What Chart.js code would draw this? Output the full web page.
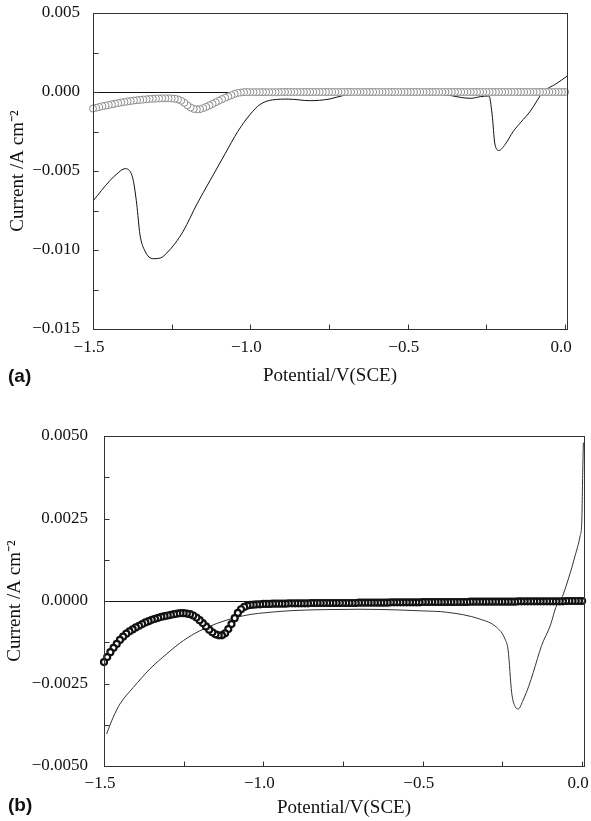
<!DOCTYPE html>
<html>
<head>
<meta charset="utf-8">
<script src="https://cdn.jsdelivr.net/npm/chart.js@4.4.1/dist/chart.umd.min.js"></script>
<style>
  body { margin: 0; background: #fff; width: 591px; height: 821px; overflow: hidden; position: relative; }
  canvas { position: absolute; left: 0; }
  #chartA { top: 0; }
  #chartB { top: 410px; }
  .tag { position: absolute; left: 8px; font: bold 19px "Liberation Sans", Arial, sans-serif; color: #111; line-height: 22px; }
</style>
</head>
<body>
<canvas id="chartA" width="591" height="395"></canvas>
<canvas id="chartB" width="591" height="411"></canvas>
<div class="tag" style="top:365px">(a)</div>
<div class="tag" style="top:794px">(b)</div>
<script>
// potential sweep for the open-circle scans (V vs SCE)
const sweepV = [
  -1.50,-1.49,-1.48,-1.47,-1.46,-1.45,-1.44,-1.43,-1.42,-1.41,
  -1.40,-1.39,-1.38,-1.37,-1.36,-1.35,-1.34,-1.33,-1.32,-1.31,
  -1.30,-1.29,-1.28,-1.27,-1.26,-1.25,-1.24,-1.23,-1.22,-1.21,
  -1.20,-1.19,-1.18,-1.17,-1.16,-1.15,-1.14,-1.13,-1.12,-1.11,
  -1.10,-1.09,-1.08,-1.07,-1.06,-1.05,-1.04,-1.03,-1.02,-1.01,
  -1.00,-0.99,-0.98,-0.97,-0.96,-0.95,-0.94,-0.93,-0.92,-0.91,
  -0.90,-0.89,-0.88,-0.87,-0.86,-0.85,-0.84,-0.83,-0.82,-0.81,
  -0.80,-0.79,-0.78,-0.77,-0.76,-0.75,-0.74,-0.73,-0.72,-0.71,
  -0.70,-0.69,-0.68,-0.67,-0.66,-0.65,-0.64,-0.63,-0.62,-0.61,
  -0.60,-0.59,-0.58,-0.57,-0.56,-0.55,-0.54,-0.53,-0.52,-0.51,
  -0.50,-0.49,-0.48,-0.47,-0.46,-0.45,-0.44,-0.43,-0.42,-0.41,
  -0.40,-0.39,-0.38,-0.37,-0.36,-0.35,-0.34,-0.33,-0.32,-0.31,
  -0.30,-0.29,-0.28,-0.27,-0.26,-0.25,-0.24,-0.23,-0.22,-0.21,
  -0.20,-0.19,-0.18,-0.17,-0.16,-0.15,-0.14,-0.13,-0.12,-0.11,
  -0.10,-0.09,-0.08,-0.07,-0.06,-0.05,-0.04,-0.03,-0.02,-0.01,
  0.00
]

// (a) open circles, current density A/cm2
const ringA = [
  -0.00105,-0.00100,-0.00095,-0.00090,-0.00086,-0.00082,-0.00078,-0.00074,-0.00070,-0.00066,
  -0.00063,-0.00060,-0.00057,-0.00054,-0.00052,-0.00050,-0.00048,-0.00046,-0.00044,-0.00043,
  -0.00042,-0.00041,-0.00040,-0.00040,-0.00040,-0.00041,-0.00043,-0.00047,-0.00055,-0.00068,
  -0.00084,-0.00098,-0.00107,-0.00110,-0.00108,-0.00102,-0.00094,-0.00085,-0.00075,-0.00065,
  -0.00055,-0.00045,-0.00036,-0.00028,-0.00020,-0.00012,-0.00006,-0.00003,-0.00001,0,
  -0.00001,-0.00001,-0.00001,-0.00001,-0.00001,-0.00001,-0.00001,-0.00001,-0.00001,-0.00001,
  0,0,0,0,0,0,0,0,0,0,
  0,0,0,0,0,0,0,0,0,0,
  0,0,0,0,0,0,0,0,0,0,
  0,0,0,0,0,0,0,0,0,0,
  0,0,0,0,0,0,0,0,0,0,
  0,0,0,0,0,0,0,0,0,0,
  0,0,0,0,0,0,0,0,0,0,
  0,0,0,0,0,0,0,0,0,0,
  0,0,0,0,0,0,0,0,0,0,
  0
]

// (a) solid curve
const lineAx = [-1.50,-1.446,-1.425,-1.398,-1.38,-1.372,-1.361,-1.351,-1.335,-1.309,-1.285,-1.266,-1.24,-1.213,-1.17,-1.128,-1.08,-1.04,-1.00,-0.97,-0.93,-0.88,-0.81,-0.75,-0.70,-0.66,-0.60,-0.50,-0.43,-0.37,-0.33,-0.30,-0.27,-0.242,-0.232,-0.223,-0.21,-0.19,-0.165,-0.14,-0.11,-0.07,-0.03,0.006]
const lineAy = [-0.0069,-0.0056,-0.0052,-0.00485,-0.0051,-0.0056,-0.0071,-0.0090,-0.01006,-0.01055,-0.0105,-0.0102,-0.0096,-0.0088,-0.0071,-0.0056,-0.0039,-0.0025,-0.0014,-0.0008,-0.0005,-0.00045,-0.00055,-0.00045,-0.0002,-0.00013,-0.0001,-0.0001,-0.00012,-0.0002,-0.00035,-0.0004,-0.0003,-0.00025,-0.0014,-0.0033,-0.0037,-0.0033,-0.0025,-0.0019,-0.0012,0.0000,0.0005,0.0010]

// (b) circles
const ringB = [
  -0.00185,-0.00170,-0.00155,-0.00142,-0.00130,-0.00118,-0.00108,-0.00099,-0.00092,-0.00086,
  -0.00080,-0.00075,-0.00070,-0.00065,-0.00061,-0.00057,-0.00054,-0.00051,-0.00048,-0.00046,
  -0.00044,-0.00042,-0.00040,-0.00038,-0.00037,-0.00037,-0.00038,-0.00040,-0.00044,-0.00050,
  -0.00058,-0.00067,-0.00077,-0.00087,-0.00095,-0.00101,-0.00104,-0.00104,-0.00098,-0.00085,
  -0.00070,-0.00052,-0.00036,-0.00025,-0.00018,-0.00014,-0.00012,-0.00011,-0.00010,-0.00010,
  -0.00009,-0.00009,-0.00009,-0.00008,-0.00008,-0.00008,-0.00008,-0.00008,-0.00007,-0.00007,
  -0.00007,-0.00007,-0.00007,-0.00007,-0.00007,-0.00006,-0.00006,-0.00006,-0.00006,-0.00006,
  -0.00006,-0.00006,-0.00006,-0.00006,-0.00006,-0.00006,-0.00006,-0.00006,-0.00006,-0.00006,
  -0.00005,-0.00005,-0.00005,-0.00005,-0.00005,-0.00005,-0.00005,-0.00005,-0.00005,-0.00005,
  -0.00004,-0.00004,-0.00004,-0.00004,-0.00004,-0.00004,-0.00004,-0.00004,-0.00004,-0.00004,
  -0.00003,-0.00003,-0.00003,-0.00003,-0.00003,-0.00003,-0.00003,-0.00003,-0.00003,-0.00003,
  -0.00003,-0.00003,-0.00003,-0.00003,-0.00003,-0.00002,-0.00002,-0.00002,-0.00002,-0.00002,
  -0.00002,-0.00002,-0.00002,-0.00002,-0.00002,-0.00002,-0.00002,-0.00002,-0.00002,-0.00002,
  -0.00001,-0.00001,-0.00001,-0.00001,-0.00001,-0.00001,-0.00001,-0.00001,-0.00001,-0.00001,
  -0.00001,-0.00001,-0.00001,-0.00001,-0.00001,0,0,0,0,0,
  0
]

// (b) solid curve
const lineBx = [-1.492,-1.471,-1.45,-1.408,-1.356,-1.303,-1.251,-1.199,-1.146,-1.094,-1.042,-0.989,-0.907,-0.80,-0.70,-0.58,-0.50,-0.425,-0.32,-0.268,-0.242,-0.232,-0.221,-0.21,-0.20,-0.185,-0.168,-0.153,-0.127,-0.10,-0.08,-0.068,-0.043,-0.022,-0.006,-0.001,0.002,0.004]
const lineBy = [-0.00403,-0.00352,-0.00312,-0.00262,-0.00206,-0.0016,-0.0012,-0.0009,-0.00068,-0.00052,-0.00041,-0.00035,-0.00029,-0.00026,-0.00025,-0.00027,-0.0003,-0.00034,-0.00055,-0.0008,-0.00115,-0.0015,-0.00277,-0.0032,-0.00327,-0.0030,-0.0026,-0.00216,-0.00135,-0.00075,-0.00014,0.0000,0.00067,0.00137,0.00198,0.0024,0.0039,0.0048]

// axis ticks
const xTicks = [-1.5, -1.0, -0.5, 0.0]
const xMinor = [-1.25, -0.75, -0.25]
const yTicksA = [-0.015, -0.010, -0.005, 0.000, 0.005]
const yMinorA = [-0.0125, -0.0075, -0.0025, 0.0025]
const yTicksB = [-0.0050, -0.0025, 0.0000, 0.0025, 0.0050]
const yMinorB = [-0.00375, -0.00125, 0.00125, 0.00375]

const serif = '"Liberation Serif", "Times New Roman", serif'
const tickFont = { family: serif, size: 17 }
const titleFont = { family: serif, size: 19 }

function fmt(v, d) {
  return (v < 0 ? '\u2212' : '') + Math.abs(v).toFixed(d)
}

function ringPoints(vals) {
  // last point drawn is the -1.5 V one, so it stays on top
  return sweepV.map((v, i) => ({ x: v, y: vals[i] })).reverse()
}

function linePoints(xs, ys) {
  return xs.map((v, i) => ({ x: v, y: ys[i] }))
}

// frame box, zero line and inward tick marks
function frameTicks(p) {
  return {
    id: 'frameTicks',
    beforeDatasetsDraw(chart) {
      const { ctx, chartArea: a, scales } = chart
      const y0 = Math.round(scales.y.getPixelForValue(0)) + 0.5
      ctx.save()
      ctx.strokeStyle = '#111'
      ctx.lineWidth = 1
      ctx.beginPath()
      ctx.moveTo(a.left, y0)
      ctx.lineTo(a.right, y0)
      ctx.stroke()
      ctx.restore()
    },
    afterDatasetsDraw(chart) {
      const { ctx, chartArea: a, scales: { x, y } } = chart
      const l = Math.round(a.left) + 0.5, t = Math.round(a.top) + 0.5
      const r = Math.round(a.right) + 0.5, b = Math.round(a.bottom) + 0.5
      ctx.save()
      ctx.strokeStyle = '#333'
      ctx.lineWidth = 1
      ctx.strokeRect(l, t, r - l, b - t)
      ctx.beginPath()
      xTicks.concat(xMinor).forEach(v => {
        const px = Math.round(x.getPixelForValue(v)) + 0.5
        ctx.moveTo(px, b)
        ctx.lineTo(px, b - 5)
      })
      p.yTicks.concat(p.yMinor).forEach(v => {
        const py = Math.round(y.getPixelForValue(v)) + 0.5
        ctx.moveTo(l, py)
        ctx.lineTo(l + 5, py)
      })
      ctx.stroke()
      ctx.restore()
    }
  }
}

function drawPanel(id, p) {
  return new Chart(document.getElementById(id), {
    type: 'scatter',
    data: {
      datasets: [
        {
          data: ringPoints(p.rings),
          showLine: false,
          pointRadius: p.r,
          pointHoverRadius: p.r,
          pointBorderWidth: p.rw,
          pointBorderColor: p.rc,
          pointBackgroundColor: '#fff',
          clip: 8
        },
        {
          data: linePoints(p.lx, p.ly),
          showLine: true,
          borderColor: p.lc,
          borderWidth: 1,
          pointRadius: 0,
          cubicInterpolationMode: 'monotone',
          fill: false,
          clip: 2
        }
      ]
    },
    options: {
      responsive: false,
      animation: false,
      events: [],
      layout: { padding: p.pad },
      plugins: { legend: { display: false }, tooltip: { enabled: false } },
      scales: {
        x: {
          type: 'linear', min: -1.5, max: p.xMax,
          grid: { display: false, drawTicks: false },
          border: { display: false },
          afterBuildTicks: s => { s.ticks = xTicks.map(v => ({ value: v })) },
          afterFit: s => { s.height = p.xh; s.paddingLeft = 0; s.paddingRight = 0 },
          ticks: { padding: p.xtp, labelOffset: -4, font: tickFont, color: '#111', maxRotation: 0, autoSkip: false, callback: v => fmt(v, 1) },
          title: { display: true, text: 'Potential/V(SCE)', font: titleFont, color: '#111', padding: { top: 0, bottom: 0 } }
        },
        y: {
          type: 'linear', min: p.yTicks[0], max: p.yTicks[p.yTicks.length - 1],
          grid: { display: false, drawTicks: false },
          border: { display: false },
          afterBuildTicks: s => { s.ticks = p.yTicks.map(v => ({ value: v })) },
          afterFit: s => { s.width = p.yw; s.paddingTop = 0; s.paddingBottom = 0 },
          ticks: { padding: p.ytp, font: tickFont, color: '#111', autoSkip: false, callback: v => fmt(v, p.digits) },
          title: { display: true, text: 'Current /A cm\u207B\u00B2', font: titleFont, color: '#111', padding: { top: p.ytt, bottom: 0 } }
        }
      }
    },
    plugins: [frameTicks(p)]
  })
}

drawPanel('chartA', {
  rings: ringA, r: 3.5, rw: 1, rc: '#8a8a8a',
  lx: lineAx, ly: lineAy, lc: '#111',
  yTicks: yTicksA, yMinor: yMinorA, digits: 3,
  xMax: 0.006,
  pad: { left: 0, top: 13, right: 24, bottom: 8 },
  yw: 93, xh: 58, xtp: 8, ytp: 13, ytt: 7
})

drawPanel('chartB', {
  rings: ringB, r: 3, rw: 2.2, rc: '#111',
  lx: lineBx, ly: lineBy, lc: '#333',
  yTicks: yTicksB, yMinor: yMinorB, digits: 4,
  xMax: 0.006,
  pad: { left: 0, top: 26, right: 7, bottom: 2 },
  yw: 104, xh: 53, xtp: 7, ytp: 16, ytt: 4
})
</script>
</body>
</html>
